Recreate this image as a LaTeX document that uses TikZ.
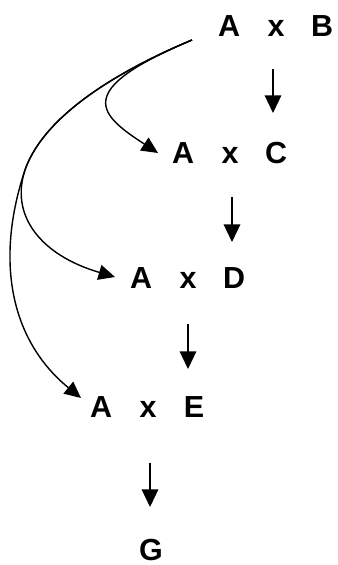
\documentclass[tikz,border=0pt]{standalone}
\usepackage{fontspec}
\setmainfont{Liberation Sans}
\usetikzlibrary{arrows.meta,calc}

\begin{document}
\begin{tikzpicture}[x=0.03cm, y=-0.03cm,
  lbl/.style={font=\fontsize{26}{30}\selectfont\bfseries, inner sep=0pt, anchor=base, text height=16pt, text depth=0pt},
  stem/.style={line width=1.6pt, -{Triangle[length=15pt,width=14pt]}},
  curvearrow/.style={line width=1.2pt, -{Triangle[length=14pt,width=13pt]}}]
  \useasboundingbox (0,0) rectangle (337,565);
  % rows of crosses
  \foreach \r/\c/\xx/\yy in {b/B/276/37, c/C/230/164, d/D/188/288, e/E/148/417}{
    \node[lbl] (a\r) at (\xx-47,\yy) {A};
    \node[lbl] (x\r) at (\xx,\yy) {x};
    \node[lbl] (\r) at (\xx+46,\yy) {\c};
  }
  \node[lbl] (g) at (151,560) {G};
  % straight arrows
  \draw[stem] ($(xb.base)+(-3,32)$) -- ($(xb.base |- xc.base)+(-3,-51)$);
  \draw[stem] ($(xc.base)+(2,33)$) -- ($(xc.base |- xd.base)+(2,-46)$);
  \draw[stem] ($(xd.base)+(0,36)$) -- ($(xd.base |- xe.base)+(0,-48)$);
  \draw[stem] ($(xe.base)+(2,46)$) -- ($(xe.base |- g.base)+(2,-53)$);
  % curved arrows
  \coordinate (src) at ($(ab.base)+(-37,3)$);
  \coordinate (fork) at (25,170);
  \draw[curvearrow] (src) .. controls (70,91) and (100,115) .. ($(ac.base)+(-25,-11)$);
  \draw[curvearrow] (src) .. controls (132,65) and (46,110) .. (fork)
    .. controls (10,215) and (40,255) .. ($(ad.base)+(-26,-11)$);
  \draw[curvearrow] (src) .. controls (132,65) and (46,110) .. (fork)
    .. controls (-5,260) and (10,340) .. ($(ae.base)+(-20,-19)$);
\end{tikzpicture}
\end{document}
